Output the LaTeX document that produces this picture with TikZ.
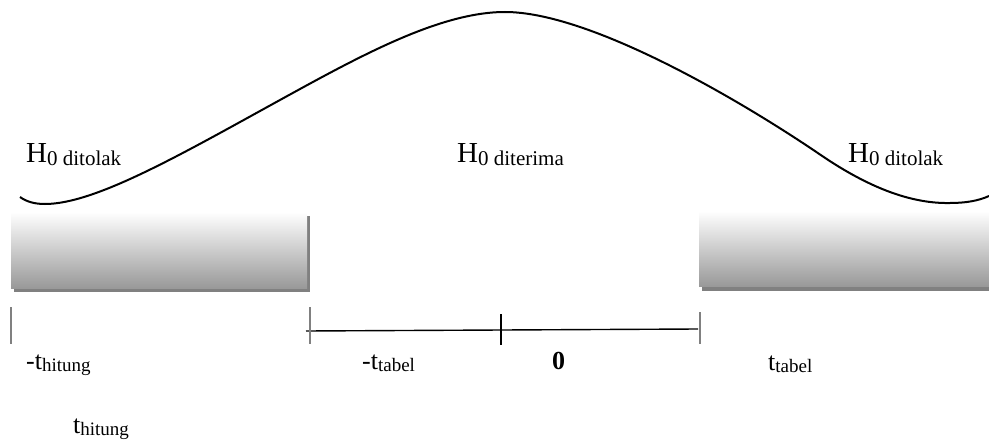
\documentclass[tikz,border=0pt]{standalone}
\usepackage{fontspec}
\setmainfont{Liberation Serif}
\newcommand{\sbH}[1]{\raisebox{-3pt}{\fontsize{21}{21}\selectfont #1}}
\newcommand{\sbT}[1]{\raisebox{-2pt}{\fontsize{19}{19}\selectfont #1}}
\begin{document}
\begin{tikzpicture}[x=1pt,y=-1pt,
  hlab/.style={anchor=base west, inner sep=0pt, font=\fontsize{29}{29}\selectfont},
  tlab/.style={anchor=base west, inner sep=0pt, font=\fontsize{26}{26}\selectfont},
  zone/.style={top color=white, bottom color=black!40, draw=none},
  shadowbox/.style={fill=black!50},
  graytick/.style={draw=black!50, line width=1.2pt},
  blacktick/.style={draw=black, line width=1.2pt},
  axisline/.style={draw=black, line width=1.4pt},
  curve/.style={draw=black, line width=2pt, line join=round}]
\useasboundingbox (0,0) rectangle (989,444);
% rejection zones with shadow
\fill[shadowbox] (14,216) rectangle (310,292);
\shade[zone] (11,212) rectangle (307,288);
\fill[shadowbox] (702,215) rectangle (989,291);
\shade[zone] (699,211) rectangle (989,286);
% bell curve
\draw[curve] (20,197) .. controls (27,202) and (35,204) .. (45,204)
  .. controls (95,204) and (180,155) .. (280,100)
  .. controls (360,56) and (440,12) .. (505,12)
  .. controls (590,12) and (740,100) .. (820,154.5)
  .. controls (860,181.8) and (905,204) .. (950,203)
  .. controls (965,203) and (978,201) .. (989,196);
% labels
\node[hlab] (hl) at (26,162) {H\sbH{0 ditolak}};
\node[hlab] (hm) at (457,162) {H\sbH{0 diterima}};
\node[hlab] (hr) at (848,162) {H\sbH{0 ditolak}};
\node[tlab] (mth) at (26,369) {-t\sbT{hitung}};
\node[tlab] (th) at (73,433) {t\sbT{hitung}};
\node[tlab] (mtt) at (362,369) {-t\sbT{tabel}};
\node[tlab, font=\fontsize{26}{26}\selectfont\bfseries] (zero) at (552,369) {0};
\node[tlab] (tt) at (768,370) {t\sbT{tabel}};
% axis
\coordinate (a1t) at (11,307); \coordinate (a1b) at (11,344);
\coordinate (a2t) at (310,307); \coordinate (a2b) at (310,344);
\coordinate (a3t) at (501,314); \coordinate (a3b) at (501,345);
\coordinate (a4t) at (700,312); \coordinate (a4b) at (700,344);
\coordinate (axl) at (306,331); \coordinate (axr) at (698,329);
\draw[axisline] (axl) -- (axr);
\draw[graytick] (a1t) -- (a1b);
\draw[graytick] (a2t) -- (a2b);
\draw[blacktick] (a3t) -- (a3b);
\draw[graytick] (a4t) -- (a4b);
\end{tikzpicture}
\end{document}
